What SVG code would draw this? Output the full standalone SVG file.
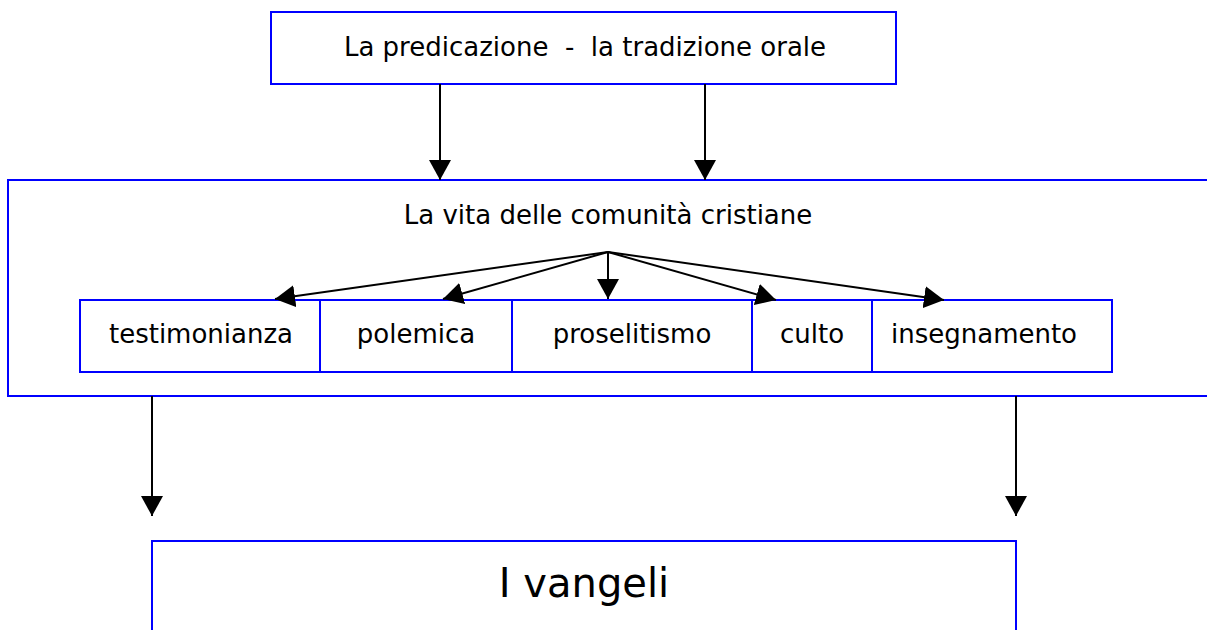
<svg xmlns="http://www.w3.org/2000/svg" width="1207" height="630" viewBox="0 0 1207 630">
<style>
.box{fill:#fff;stroke:#0000ff;stroke-width:2}
.lbl{font-family:"DejaVu Sans","Liberation Sans",sans-serif;font-size:26px;fill:#000;text-anchor:middle;white-space:pre}
.big{font-size:40px}
.con{stroke:#000;stroke-width:2;fill:none;marker-end:url(#ah)}
</style>
<defs>
<marker id="ah" markerUnits="userSpaceOnUse" markerWidth="22" markerHeight="22" viewBox="0 0 22 22" refX="20" refY="11" orient="auto">
<path d="M0,0 L20,11 L0,22 Z" fill="#000"/>
</marker>
</defs>
<rect width="1207" height="630" fill="#fff"/>
<g id="node-predicazione">
<rect class="box" x="271" y="12" width="625" height="72"/>
<text class="lbl" x="585" y="56" xml:space="preserve">La predicazione  -  la tradizione orale</text>
</g>
<g id="node-comunita">
<rect class="box" x="8" y="180" width="1205" height="216"/>
<text class="lbl" x="608" y="224">La vita delle comunità cristiane</text>
</g>
<g id="node-testimonianza">
<rect class="box" x="80" y="300" width="240" height="72"/>
<text class="lbl" x="201" y="343">testimonianza</text>
</g>
<g id="node-polemica">
<rect class="box" x="320" y="300" width="192" height="72"/>
<text class="lbl" x="416" y="343">polemica</text>
</g>
<g id="node-proselitismo">
<rect class="box" x="512" y="300" width="240" height="72"/>
<text class="lbl" x="632" y="343">proselitismo</text>
</g>
<g id="node-culto">
<rect class="box" x="752" y="300" width="120" height="72"/>
<text class="lbl" x="812" y="343">culto</text>
</g>
<g id="node-insegnamento">
<rect class="box" x="872" y="300" width="240" height="72"/>
<text class="lbl" x="984" y="343">insegnamento</text>
</g>
<g id="node-vangeli">
<rect class="box" x="152" y="541" width="864" height="100"/>
<text class="lbl big" x="584" y="597">I vangeli</text>
</g>
<g id="connectors">
<line class="con" x1="440" y1="84" x2="440" y2="180"/>
<line class="con" x1="705" y1="84" x2="705" y2="180"/>
<line class="con" x1="608" y1="252" x2="275" y2="299"/>
<line class="con" x1="608" y1="252" x2="443" y2="299"/>
<line class="con" x1="608" y1="252" x2="608" y2="299"/>
<line class="con" x1="608" y1="252" x2="776" y2="300"/>
<line class="con" x1="608" y1="252" x2="944" y2="300"/>
<line class="con" x1="152" y1="396" x2="152" y2="516"/>
<line class="con" x1="1016" y1="396" x2="1016" y2="516"/>
</g>
</svg>
